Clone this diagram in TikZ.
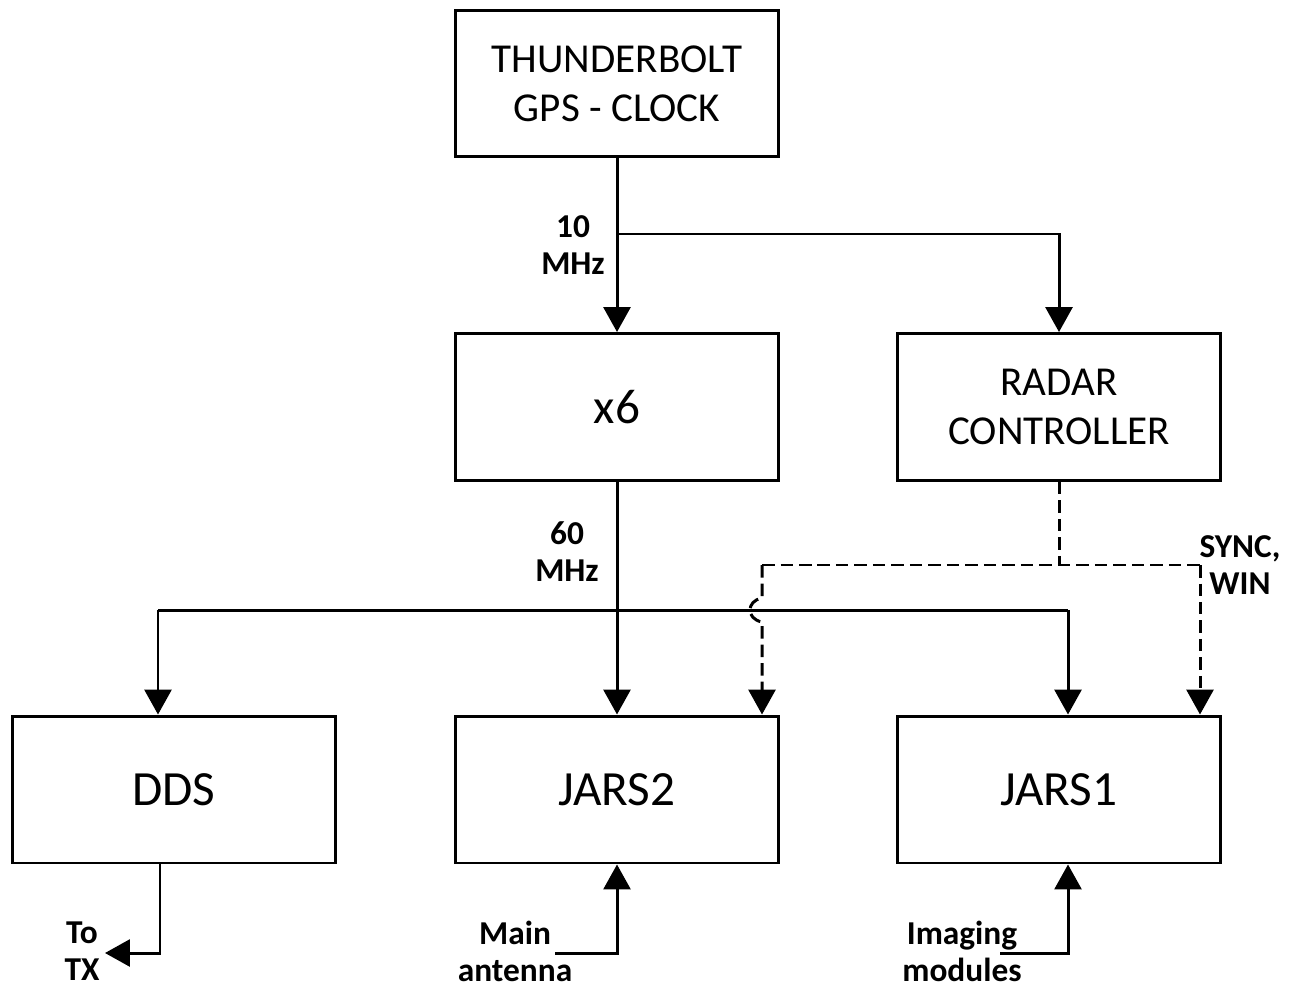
\documentclass[tikz,border=0pt]{standalone}
\usepackage{fontspec}
\setmainfont{Carlito}
\usetikzlibrary{arrows.meta}

\begin{document}
\begin{tikzpicture}[x=0.02cm,y=-0.02cm,line width=1.7pt,>={Triangle[width=0.54cm,length=0.5cm]},
    box/.style={draw,align=center,minimum width=6.48cm,minimum height=2.94cm,font=\fontsize{23.4}{28}\selectfont},
    bigbox/.style={box,font=\fontsize{28}{32}\selectfont},
    lbl/.style={align=center,font=\fontsize{19}{21}\selectfont\bfseries},
    sig/.style={dash pattern=on 0.25cm off 0.12cm}]
    \useasboundingbox (0,0) rectangle (1291,990);
    % blocks
    \node[box] (gps) at (617,83.5) {THUNDERBOLT\\GPS - CLOCK};
    \node[bigbox] (mult) at (617,407) {x6};
    \node[box] (radar) at (1059,407) {RADAR\\CONTROLLER};
    \node[bigbox] (dds) at (174,789.5) {DDS};
    \node[bigbox] (jars2) at (617,789.5) {JARS2};
    \node[bigbox] (jars1) at (1059,789.5) {JARS1};
    % 10 MHz reference
    \coordinate (ref) at (617,234);
    \draw[->] (gps) -- (mult);
    \draw[->] (ref) -| (radar);
    \node[lbl] (tenmhz) at (573,245) {10\\MHz};
    % 60 MHz distribution
    \coordinate (bus w) at (158,610);
    \coordinate (bus e) at (1068,610);
    \draw[->] (mult) -- (jars2);
    \draw (bus w) -- (bus e);
    \draw[->] (bus w) -- (bus w |- dds.north);
    \draw[->] (bus e) -- (bus e |- jars1.north);
    \node[lbl] (sixtymhz) at (567,552) {60\\MHz};
    % sync / window
    \coordinate (sync) at (1059,565);
    \coordinate (sync w) at (762,565);
    \coordinate (sync e) at (1200,565);
    \draw[sig] (radar) -- (sync);
    \draw[sig] (sync w) -- (sync e);
    \draw[sig,->] (sync e) -- (sync e |- jars1.north);
    \draw[sig,->] (sync w) -- (762,598) .. controls (746,601) and (746,619) .. (762,622) -- (sync w |- jars2.north);
    \node[lbl] (syncwin) at (1240,565) {SYNC,\\WIN};
    % outputs and inputs
    \coordinate (tx) at (105,953);
    \coordinate (ant) at (555,953);
    \coordinate (img) at (1000,953);
    \draw[->] (dds.south -| 160,0) |- (tx);
    \draw[->] (ant) -| (jars2);
    \draw[->] (img) -| (jars1.south -| 1068,0);
    \node[lbl] (totx) at (82,951) {To\\TX};
    \node[lbl] (main) at (515,951) {Main\\antenna};
    \node[lbl] (imaging) at (962,951) {Imaging\\modules};
  \end{tikzpicture}
\end{document}
